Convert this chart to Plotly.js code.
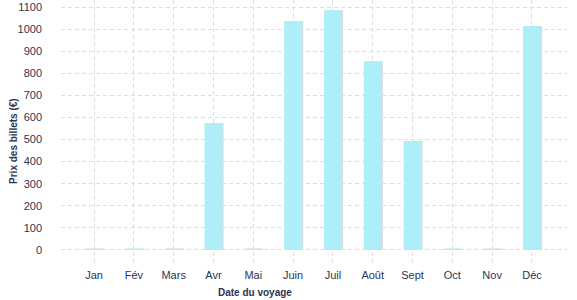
<!DOCTYPE html>
<html><head><meta charset="utf-8">
<script src="https://cdn.plot.ly/plotly-3.0.1.min.js"></script>
<style>html,body{margin:0;padding:0;background:#fff}#c{width:577px;height:300px}</style>
</head><body><div id="c"></div>
<script>
const months = ["Jan","Fév","Mars","Avr","Mai","Juin","Juil","Août","Sept","Oct","Nov","Déc"];
const prices = [6, 6, 6, 575, 6, 1037, 1086, 855, 493, 6, 6, 1014];
const yTicks = [0,100,200,300,400,500,600,700,800,900,1000,1100];

const idx = months.map((m,i)=>i);
const textColor = "#2b3553";
const fam = "Liberation Sans, Arial, sans-serif";
const font = {family:fam, size:11, color:textColor};
const titleFont = {family:fam, size:10, color:textColor, weight:"bold"};

const shadow = {type:"bar", x:idx, y:prices, width:0.45, offset:-0.195,
  marker:{color:"#dcdcdc"}, hoverinfo:"skip", showlegend:false};
const bars = {type:"bar", x:idx, y:prices, width:0.45, offset:-0.225,
  marker:{color:"#aeeef8"}, showlegend:false};

const layout = {
  width:577, height:300,
  margin:{l:61, r:10, t:0, b:37},
  paper_bgcolor:"#fff", plot_bgcolor:"#fff",
  barmode:"overlay",
  font:font,
  xaxis:{range:[-0.83,11.88], tickmode:"array", tickvals:idx, ticktext:months,
    showgrid:true, gridcolor:"#dedede", griddash:"4px,3px", gridwidth:1,
    zeroline:false, showline:false, ticks:"", ticklabelstandoff:4,
    tickfont:font, fixedrange:true},
  yaxis:{range:[-59,1132], tickmode:"array", tickvals:yTicks,
    showgrid:true, gridcolor:"#dedede", griddash:"4px,3px", gridwidth:1,
    zeroline:false, showline:false, ticks:"", ticklabelstandoff:18,
    tickfont:font, automargin:false, fixedrange:true},
  annotations:[
    {text:"Date du voyage", xref:"paper", yref:"paper", x:0.383, y:-0.114,
     xanchor:"center", yanchor:"middle", showarrow:false, font:titleFont},
    {text:"Prix des billets (€)", xref:"paper", yref:"paper", x:-0.0929, y:0.464,
     xanchor:"center", yanchor:"middle", textangle:-90, showarrow:false, font:titleFont}
  ]
};
Plotly.newPlot("c",[shadow,bars],layout,{displayModeBar:false,staticPlot:true});
</script></body></html>
